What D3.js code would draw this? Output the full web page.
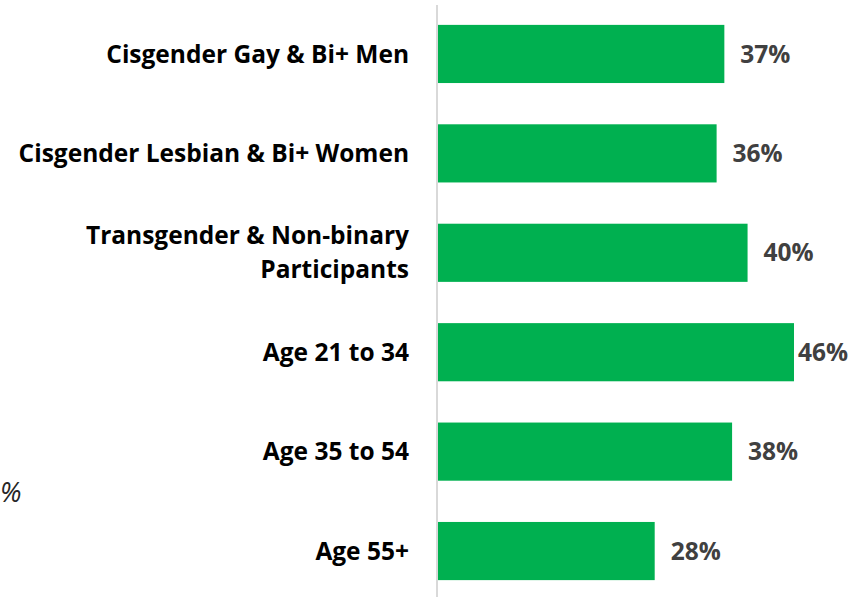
<!DOCTYPE html>
<html>
<head>
<meta charset="utf-8">
<script src="https://cdn.jsdelivr.net/npm/d3@7"></script>
<style>
  body { margin: 0; background: #fff; }
  text { font-family: "Open Sans", Lato, sans-serif; }
</style>
</head>
<body>
<script>
/* Chart data */
var groups = [
    ['Cisgender Gay & Bi+ Men'],
    ['Cisgender Lesbian & Bi+ Women'],
    ['Transgender & Non-binary', 'Participants'],
    ['Age 21 to 34'],
    ['Age 35 to 54'],
    ['Age 55+']
];
var values = [37, 36, 40, 46, 38, 28];
var strayLabel = '%';

var width = 858, height = 597;

var svg = d3.select('body')
    .append('svg')
    .attr('width', width)
    .attr('height', height);

/* Scales */
var x = d3.scaleLinear().domain([0, 46]).range([438, 794]);
var y = d3.scaleBand()
    .domain(d3.range(values.length))
    .range([5, 600])
    .paddingInner(0.415)
    .paddingOuter(0.2);

/* Vertical axis line */
svg.append('line')
    .attr('x1', 437).attr('x2', 437)
    .attr('y1', 5).attr('y2', height)
    .attr('stroke', '#d9d9d9')
    .attr('stroke-width', 2);

/* Bars */
svg.selectAll('rect.bar')
    .data(values)
    .enter()
    .append('rect')
    .attr('class', 'bar')
    .attr('x', x(0))
    .attr('y', function (d, i) { return y(i); })
    .attr('width', function (d) { return x(d) - x(0); })
    .attr('height', y.bandwidth())
    .attr('fill', '#00b050');

/* Category labels */
var labels = svg.selectAll('text.cat')
    .data(groups)
    .enter()
    .append('text')
    .attr('class', 'cat')
    .attr('text-anchor', 'end')
    .attr('font-weight', 700)
    .attr('font-size', 24.5)
    .attr('fill', '#000');

labels.each(function (lines, i) {
    var cy = y(i) + y.bandwidth() / 2;
    var step = 34;
    var top = cy - (lines.length - 1) * step / 2;
    d3.select(this).selectAll('tspan')
        .data(lines)
        .enter()
        .append('tspan')
        .attr('x', 409)
        .attr('y', function (d, j) { return top + j * step; })
        .attr('dy', '0.35em')
        .text(function (d) { return d; });
});

/* Value labels, kept inside the page */
svg.selectAll('text.val')
    .data(values)
    .enter()
    .append('text')
    .attr('class', 'val')
    .attr('x', function (d) { return x(d) + 16; })
    .attr('y', function (d, i) { return y(i) + y.bandwidth() / 2; })
    .attr('dy', '0.35em')
    .attr('font-weight', 700)
    .attr('font-size', 24.5)
    .attr('fill', '#404040')
    .text(function (d) { return d + '%'; })
    .each(function () {
        var w = this.getComputedTextLength();
        var xs = +d3.select(this).attr('x');
        if (xs + w > 848) d3.select(this).attr('x', 848 - w);
    });

/* Visible piece of a label from a neighbouring chart */
svg.append('text')
    .attr('x', 0)
    .attr('y', 493)
    .attr('dy', '0.35em')
    .attr('font-style', 'italic')
    .attr('font-size', 27)
    .attr('fill', '#262626')
    .text(strayLabel);
</script>
</body>
</html>
